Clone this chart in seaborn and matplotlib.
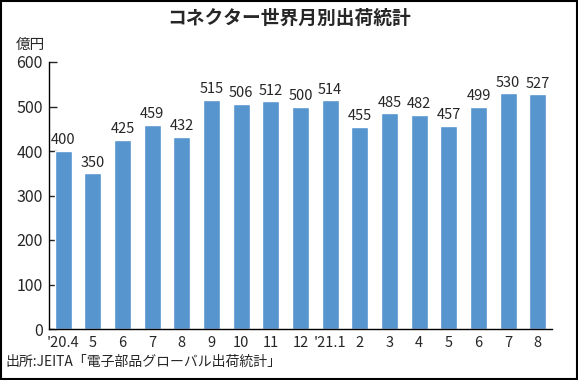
import pandas as pd
import seaborn as sns
import matplotlib.pyplot as plt
from matplotlib.patches import Rectangle

# data
months = ["'20.4", '5', '6', '7', '8', '9', '10', '11', '12',
          "'21.1", '2', '3', '4', '5', '6', '7', '8']
values = [400, 350, 425, 459, 432, 515, 506, 512, 500,
          514, 455, 485, 482, 457, 499, 530, 527]

df = pd.DataFrame({'pos': range(len(months)), 'value': values})

sns.set_style('white')
plt.rcParams['font.family'] = ['Noto Sans CJK JP', 'DejaVu Sans']

fig = plt.figure(figsize=(5.78, 3.80), dpi=100)
ax = fig.add_axes([49 / 578, 1 - 329 / 380, 503 / 578, 267 / 380])

sns.barplot(data=df, x='pos', y='value', color='#5795cf', width=0.57,
            saturation=1, ax=ax)

for i, v in enumerate(values):
    ax.text(i, v + 8, str(v), ha='center', va='bottom', fontsize=10.5)

ax.set_ylim(0, 600)
ax.set_xlim(-0.48, len(months) - 0.52)
ax.set_yticks(range(0, 601, 100))
ax.set_xticks(range(len(months)))
ax.set_xticklabels(months)
ax.set_xlabel('')
ax.set_ylabel('')
ax.tick_params(axis='y', direction='in', length=6, width=1, labelsize=11.5, pad=4.5, left=True)
ax.tick_params(axis='x', length=0, labelsize=10.5, pad=5)
for s in ['top', 'right']:
    ax.spines[s].set_visible(False)
for s in ['left', 'bottom']:
    ax.spines[s].set_color('black')
    ax.spines[s].set_linewidth(1)

fig.text(0.5, 1 - 18 / 380, 'コネクター世界月別出荷統計', ha='center', va='center',
         fontsize=13.5, fontweight='bold')
fig.text(16 / 578, 1 - 45 / 380, '億円', ha='left', va='center', fontsize=10.5)
fig.text(5 / 578, 1 - 362 / 380, '出所:JEITA「電子部品グローバル出荷統計」', ha='left',
         va='center', fontsize=10)

fig.patches.append(Rectangle((0.002, 0.003), 0.996, 0.994, transform=fig.transFigure,
                             fill=False, edgecolor='black', linewidth=1.5))

fig.savefig('out.png', dpi=100)
